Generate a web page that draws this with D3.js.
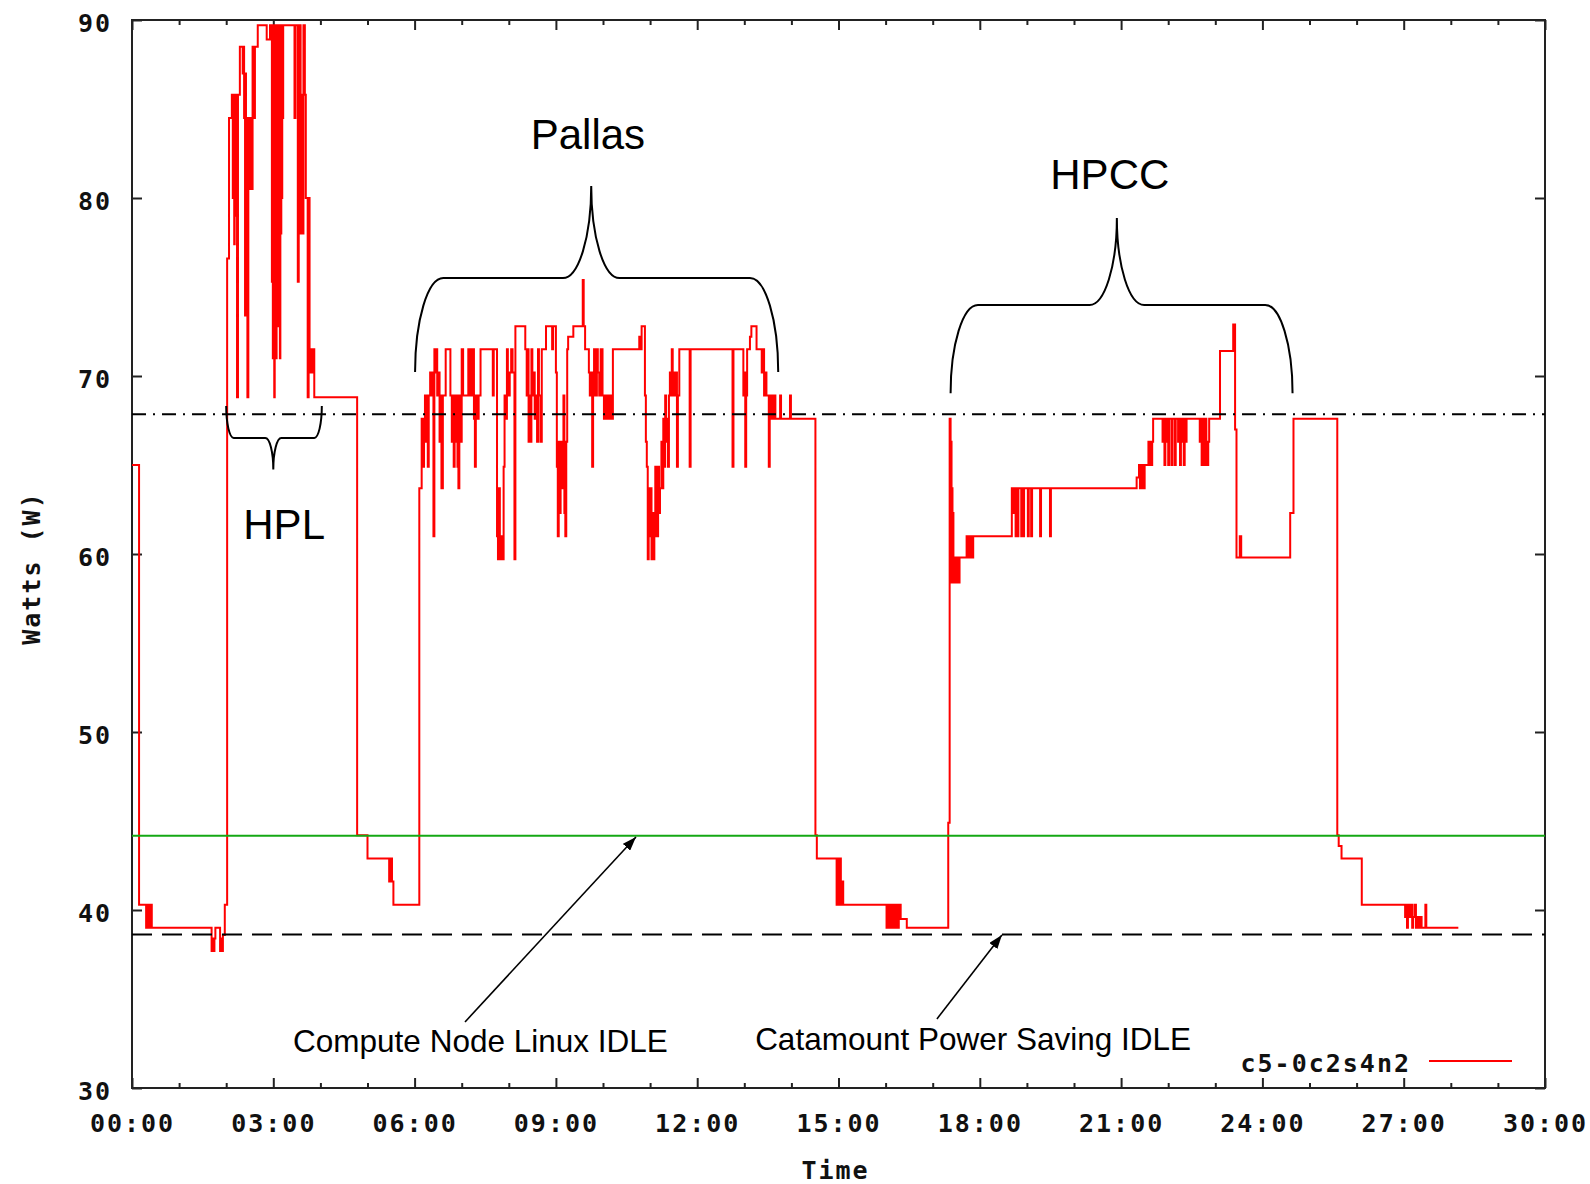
<!DOCTYPE html>
<html>
<head>
<meta charset="utf-8">
<script src="https://cdn.jsdelivr.net/npm/d3@7"></script>
<style>
  html, body { margin: 0; padding: 0; background: #ffffff; }
  svg { display: block; }
  .tick-label, .axis-title, .key-text {
    font-family: "DejaVu Sans Mono", monospace;
    font-weight: bold;
    font-size: 25px;
    letter-spacing: 2px;
    fill: #111;
  }
  .note { font-family: "Liberation Sans", Arial, sans-serif; fill: #000; }
</style>
</head>
<body>
<svg id="chart" width="1590" height="1184"></svg>
<script>
// ---- data -------------------------------------------------------------
const seriesName = "c5-0c2s4n2";

// power samples of node c5-0c2s4n2: [elapsed hours, watts], held until the next sample
const c5Samples = [
  [0.00,65.0],[0.15,40.3],[0.30,39.0],[0.32,40.3],[0.34,39.0],[0.36,40.3],[0.38,39.0],[0.40,40.3],[0.42,39.0],
  [1.69,37.7],[1.71,38.4],[1.73,37.7],[1.75,38.4],[1.77,39.0],[1.87,37.7],[1.89,38.4],[1.91,37.7],[1.93,38.6],[1.97,40.3],
  // HPL
  [2.02,76.6],[2.06,84.5],[2.12,85.8],[2.14,80.0],[2.15,85.8],[2.17,77.4],[2.18,85.8],[2.20,79.0],[2.21,85.8],[2.23,68.8],
  [2.25,85.8],[2.29,88.5],[2.35,87.0],[2.37,88.5],[2.38,84.5],[2.40,73.4],[2.41,87.0],[2.42,75.3],[2.43,84.5],[2.45,68.8],
  [2.47,84.5],[2.50,80.5],[2.52,84.5],[2.54,80.5],[2.56,88.5],[2.59,84.5],[2.61,88.5],[2.67,89.7],[2.86,88.9],[2.93,89.7],
  [2.97,75.3],[2.98,89.7],[2.99,71.0],[3.00,89.7],[3.02,68.8],[3.03,89.7],[3.04,73.4],[3.05,89.7],[3.06,71.0],[3.07,88.5],
  [3.08,75.3],[3.09,89.7],[3.10,72.8],[3.11,89.7],[3.12,77.4],[3.13,89.7],[3.14,71.0],[3.15,88.5],[3.16,78.0],[3.17,89.7],
  [3.18,80.0],[3.19,89.7],[3.20,84.5],[3.21,89.7],[3.45,84.5],[3.47,89.7],[3.52,75.3],[3.54,89.7],[3.58,78.0],[3.60,85.8],
  [3.62,78.0],[3.64,89.7],[3.67,85.8],[3.69,80.0],[3.73,68.8],[3.75,80.0],[3.77,71.5],[3.79,70.2],[3.81,71.5],[3.83,70.2],
  [3.85,71.5],[3.87,68.8],
  [4.78,44.2],[5.00,42.9],[5.46,41.6],[5.47,42.9],[5.49,41.6],[5.50,42.9],[5.52,41.6],[5.55,40.3],
  // Pallas
  [6.10,63.7],[6.15,67.6],[6.18,64.9],[6.20,67.6],[6.22,68.9],[6.24,66.3],[6.26,68.9],[6.28,64.9],[6.30,68.9],[6.33,70.2],
  [6.36,68.9],[6.38,70.2],[6.40,61.0],[6.42,71.5],[6.44,70.2],[6.46,71.5],[6.48,68.9],[6.51,70.2],[6.53,66.3],[6.55,68.9],
  [6.57,63.7],[6.60,68.9],[6.66,71.5],[6.76,68.9],[6.79,66.3],[6.81,68.9],[6.83,64.9],[6.85,68.9],[6.87,66.3],[6.89,68.9],
  [6.91,64.9],[6.93,63.7],[6.95,68.9],[6.98,66.3],[7.00,71.5],[7.03,68.9],[7.14,71.5],[7.16,68.9],[7.18,71.5],[7.20,70.2],
  [7.22,68.9],[7.24,71.5],[7.26,67.6],[7.28,64.9],[7.30,68.9],[7.33,67.6],[7.36,68.9],[7.40,71.5],[7.66,68.9],[7.68,71.5],
  [7.75,61.0],[7.77,59.7],[7.79,63.7],[7.81,59.7],[7.84,61.0],[7.86,59.7],[7.89,64.9],[7.91,68.9],[7.94,67.6],[7.96,71.5],
  [7.98,68.9],[8.02,70.2],[8.05,71.5],[8.08,70.2],[8.12,59.7],[8.14,72.8],[8.35,71.5],[8.38,68.9],[8.40,71.5],[8.42,66.3],
  [8.44,68.9],[8.46,66.3],[8.48,71.5],[8.50,68.9],[8.53,70.2],[8.55,67.6],[8.57,68.9],[8.60,66.3],[8.62,71.5],[8.64,68.9],
  [8.67,66.3],[8.70,71.5],[8.79,72.8],[8.92,71.5],[8.94,72.8],[9.00,70.2],[9.02,64.9],[9.04,61.0],[9.06,66.3],[9.08,62.3],
  [9.10,64.9],[9.12,66.3],[9.14,63.7],[9.16,68.9],[9.18,62.3],[9.20,61.0],[9.22,66.3],[9.24,71.5],[9.26,72.2],[9.37,72.8],
  [9.57,75.4],[9.59,72.8],[9.62,71.5],[9.70,70.2],[9.72,68.9],[9.75,70.2],[9.77,64.9],[9.79,68.9],[9.81,71.5],[9.85,68.9],
  [9.87,71.5],[9.89,70.2],[9.92,68.9],[9.95,71.5],[9.99,68.9],[10.02,67.6],[10.04,68.9],[10.07,67.6],[10.09,68.9],[10.12,67.6],
  [10.14,68.9],[10.17,67.6],[10.21,71.5],[10.77,72.2],[10.80,71.5],[10.82,72.8],[10.89,68.9],[10.91,66.3],[10.93,64.9],[10.95,59.7],
  [10.97,63.7],[10.99,61.0],[11.01,63.7],[11.03,59.7],[11.05,62.3],[11.07,59.7],[11.09,61.0],[11.11,64.9],[11.13,62.3],[11.15,61.0],
  [11.17,64.9],[11.19,62.3],[11.21,63.7],[11.24,66.3],[11.26,63.7],[11.28,67.6],[11.30,64.9],[11.32,68.9],[11.34,66.3],[11.36,67.6],
  [11.38,64.9],[11.40,68.9],[11.42,70.2],[11.44,68.9],[11.46,71.5],[11.48,68.9],[11.50,70.2],[11.52,68.9],[11.55,70.2],[11.57,64.9],
  [11.59,68.9],[11.62,71.5],[11.84,64.9],[11.86,71.5],[12.75,64.9],[12.77,71.5],[12.98,68.9],[13.00,70.2],[13.02,64.9],[13.04,68.9],
  [13.06,71.5],[13.12,72.2],[13.15,72.8],[13.26,71.5],[13.37,70.2],[13.40,71.5],[13.42,68.9],[13.44,70.2],[13.47,68.9],[13.52,64.9],
  [13.54,68.9],[13.57,67.6],[13.59,68.9],[13.61,67.6],[13.63,68.9],[13.66,67.6],[13.76,68.9],[13.78,67.6],[13.97,68.9],[13.99,67.6],
  [14.51,44.2],[14.54,42.9],[14.96,40.3],[14.97,42.9],[14.99,40.3],[15.00,42.9],[15.02,40.3],[15.03,42.9],[15.05,40.3],[15.07,41.6],
  [15.10,40.3],[16.02,39.0],[16.04,40.3],[16.06,39.0],[16.08,40.3],[16.10,39.0],[16.12,40.3],[16.15,39.0],[16.17,40.3],[16.20,39.0],
  [16.22,40.3],[16.25,39.0],[16.28,40.3],[16.32,39.5],[16.45,39.0],
  // HPCC
  [17.33,44.9],[17.36,67.6],[17.38,58.4],[17.39,66.3],[17.40,58.4],[17.41,63.7],[17.42,58.4],[17.43,62.3],[17.44,58.4],[17.46,59.8],
  [17.47,58.4],[17.49,59.8],[17.51,58.4],[17.53,59.8],[17.55,58.4],[17.57,59.8],[17.72,61.0],[17.74,59.8],[17.76,61.0],[17.78,59.8],
  [17.80,61.0],[17.82,59.8],[17.86,61.0],[18.68,63.7],[18.70,62.3],[18.72,63.7],[18.74,62.3],[18.76,61.0],[18.78,63.7],[18.80,61.0],
  [18.82,63.7],[18.88,61.0],[18.90,63.7],[18.92,61.0],[18.94,63.7],[19.02,61.0],[19.04,63.7],[19.09,61.0],[19.11,63.7],[19.28,61.0],
  [19.30,63.7],[19.49,61.0],[19.51,63.7],[21.33,64.3],[21.38,65.0],[21.40,63.7],[21.42,65.0],[21.44,63.7],[21.46,65.0],[21.48,63.7],
  [21.50,65.0],[21.58,66.3],[21.60,65.0],[21.62,66.3],[21.64,65.0],[21.66,66.3],[21.68,67.6],[21.88,66.3],[21.90,67.6],[21.92,65.0],
  [21.94,67.6],[21.96,66.3],[21.98,67.6],[22.00,65.0],[22.02,67.6],[22.07,65.0],[22.09,67.6],[22.14,65.0],[22.16,67.6],[22.21,66.3],
  [22.23,67.6],[22.25,65.0],[22.27,67.6],[22.29,66.3],[22.31,67.6],[22.33,65.0],[22.35,67.6],[22.37,66.3],[22.39,67.6],[22.67,66.3],
  [22.69,67.6],[22.71,65.0],[22.73,67.6],[22.75,66.3],[22.77,65.0],[22.79,67.6],[22.81,66.3],[22.83,65.0],[22.85,66.3],[22.87,67.6],
  [23.10,71.4],[23.38,72.9],[23.42,67.0],[23.45,59.8],[23.52,61.0],[23.55,59.8],[24.59,62.3],[24.66,67.6],
  [25.59,44.2],[25.62,43.6],[25.68,42.9],[26.11,40.3],[27.03,39.6],[27.05,40.3],[27.07,39.0],[27.09,40.3],[27.12,39.6],[27.15,40.3],
  [27.18,39.0],[27.20,39.6],[27.23,40.3],[27.26,39.0],[27.30,39.6],[27.33,39.0],[27.36,39.6],[27.38,39.0],[27.46,40.3],[27.48,39.0],
  [28.16,39.0]
];

// idle reference levels (watts)
const benchmarkLevel = 67.85;     // dash-dot
const cnlIdleLevel = 44.17;       // Compute Node Linux idle
const catamountIdleLevel = 38.63; // Catamount power-saving idle

const xTickHours = [0, 3, 6, 9, 12, 15, 18, 21, 24, 27, 30];
const xMinorHours = d3.range(0, 31).filter(h => h % 3 !== 0);
const yTickWatts = [30, 40, 50, 60, 70, 80, 90];

const benchmarkNames = ["HPL", "Pallas", "HPCC"];
const idleNames = ["Compute Node Linux IDLE", "Catamount Power Saving IDLE"];

// ---- layout -----------------------------------------------------------
const W = 1590, H = 1184;
const plot = { left: 132, right: 1545, top: 20, bottom: 1088 };

const svg = d3.select("#chart");
const x = d3.scaleLinear().domain([0, 30]).range([plot.left, plot.right]);
const y = d3.scaleLinear().domain([30, 90]).range([plot.bottom, plot.top]);
const fmtHour = h => d3.format("02d")(h) + ":00";

svg.append("defs").append("clipPath").attr("id", "plotClip")
  .append("rect")
  .attr("x", plot.left).attr("y", plot.top)
  .attr("width", plot.right - plot.left).attr("height", plot.bottom - plot.top);

const defs = svg.select("defs");
defs.append("marker")
  .attr("id", "arrowHead")
  .attr("viewBox", "0 0 14 10")
  .attr("refX", 14).attr("refY", 5)
  .attr("markerWidth", 14).attr("markerHeight", 10)
  .attr("markerUnits", "userSpaceOnUse")
  .attr("orient", "auto")
  .append("path").attr("d", "M0,0 L14,5 L0,10 Z").attr("fill", "#000");

// ---- axes -------------------------------------------------------------
function styleAxis(g) {
  g.select(".domain").remove();
  g.selectAll(".tick line").attr("stroke", "#222").attr("stroke-width", 2);
}

// bottom: labelled majors, minors every hour
svg.append("g").attr("transform", `translate(0,${plot.bottom})`)
  .call(d3.axisBottom(x).tickValues(xTickHours).tickSize(-10).tickPadding(26).tickFormat(fmtHour))
  .call(styleAxis)
  .call(g => g.selectAll("text").attr("class", "tick-label").attr("fill", null));
svg.append("g").attr("transform", `translate(0,${plot.bottom})`)
  .call(d3.axisBottom(x).tickValues(xMinorHours).tickSize(-5).tickFormat(""))
  .call(styleAxis);
// top mirror
svg.append("g").attr("transform", `translate(0,${plot.top})`)
  .call(d3.axisTop(x).tickValues(xTickHours).tickSize(-10).tickFormat(""))
  .call(styleAxis);
svg.append("g").attr("transform", `translate(0,${plot.top})`)
  .call(d3.axisTop(x).tickValues(xMinorHours).tickSize(-5).tickFormat(""))
  .call(styleAxis);
// left labelled, right mirror
svg.append("g").attr("transform", `translate(${plot.left},0)`)
  .call(d3.axisLeft(y).tickValues(yTickWatts).tickSize(-10).tickPadding(20).tickFormat(d3.format("d")))
  .call(styleAxis)
  .call(g => g.selectAll("text").attr("class", "tick-label").attr("fill", null).attr("dy", "0.46em"));
svg.append("g").attr("transform", `translate(${plot.right},0)`)
  .call(d3.axisRight(y).tickValues(yTickWatts).tickSize(-10).tickFormat(""))
  .call(styleAxis);

// frame
svg.append("rect")
  .attr("x", plot.left).attr("y", plot.top)
  .attr("width", plot.right - plot.left).attr("height", plot.bottom - plot.top)
  .attr("fill", "none").attr("stroke", "#222").attr("stroke-width", 2);

// axis titles
svg.append("text").attr("class", "axis-title")
  .attr("transform", `translate(31,${(plot.top + plot.bottom) / 2 + 14}) rotate(-90)`)
  .attr("text-anchor", "middle").attr("dy", "0.35em")
  .text("Watts (W)");
svg.append("text").attr("class", "axis-title")
  .attr("x", (plot.left + plot.right) / 2 - 3).attr("y", 1179)
  .attr("text-anchor", "middle")
  .text("Time");

// ---- series -----------------------------------------------------------
const powerLine = d3.line()
  .x(d => x(d[0]))
  .y(d => y(d[1]))
  .curve(d3.curveStepAfter);

svg.append("path")
  .datum(c5Samples)
  .attr("clip-path", "url(#plotClip)")
  .attr("fill", "none")
  .attr("stroke", "#ff0000")
  .attr("stroke-width", 2)
  .attr("stroke-linejoin", "miter")
  .attr("d", powerLine);

// ---- reference levels -------------------------------------------------
const refs = svg.append("g").attr("clip-path", "url(#plotClip)");
refs.append("line")
  .attr("x1", plot.left).attr("x2", plot.right)
  .attr("y1", y(cnlIdleLevel)).attr("y2", y(cnlIdleLevel))
  .attr("stroke", "#14a814").attr("stroke-width", 2);
refs.append("line")
  .attr("x1", plot.left).attr("x2", plot.right)
  .attr("y1", y(benchmarkLevel)).attr("y2", y(benchmarkLevel))
  .attr("stroke", "#000").attr("stroke-width", 2)
  .attr("stroke-dasharray", "14,7,2,7");
refs.append("line")
  .attr("x1", plot.left).attr("x2", plot.right)
  .attr("y1", y(catamountIdleLevel)).attr("y2", y(catamountIdleLevel))
  .attr("stroke", "#000").attr("stroke-width", 2)
  .attr("stroke-dasharray", "20,10");

// ---- braces and benchmark names ---------------------------------------
// curly brace with ends at h0/h1 (level wEnd), a straight band at wBand and a tip at (hTip, wTip)
function bracePath(h0, h1, hTip, wEnd, wBand, wTip, rEndH, rTipH) {
  const k = 0.552;
  const x0 = x(h0), x1 = x(h1), xm = x(hTip);
  const yE = y(wEnd), yB = y(wBand), yT = y(wTip);
  const re = x(rEndH) - x(0), rt = x(rTipH) - x(0);
  return [
    `M${x0},${yE}`,
    `C${x0},${yE + k * (yB - yE)} ${x0 + re - k * re},${yB} ${x0 + re},${yB}`,
    `L${xm - rt},${yB}`,
    `C${xm - rt + k * rt},${yB} ${xm},${yT + k * (yB - yT)} ${xm},${yT}`,
    `C${xm},${yT + k * (yB - yT)} ${xm + rt - k * rt},${yB} ${xm + rt},${yB}`,
    `L${x1 - re},${yB}`,
    `C${x1 - re + k * re},${yB} ${x1},${yE + k * (yB - yE)} ${x1},${yE}`
  ].join(" ");
}

const braces = [
  { name: benchmarkNames[0], path: bracePath(2.00, 4.03, 3.00, 68.31, 66.52, 64.75, 0.16, 0.17), label: [3.23, 60.84] },
  { name: benchmarkNames[1], path: bracePath(6.01, 13.72, 9.75, 70.22, 75.50, 80.67, 0.60, 0.60), label: [9.68, 82.75] },
  { name: benchmarkNames[2], path: bracePath(17.38, 24.64, 20.91, 69.03, 73.99, 78.88, 0.58, 0.58), label: [20.76, 80.51] }
];

svg.append("g").selectAll("path").data(braces).join("path")
  .attr("d", d => d.path)
  .attr("fill", "none").attr("stroke", "#000").attr("stroke-width", 2);

svg.append("g").selectAll("text").data(braces).join("text")
  .attr("class", "note")
  .attr("x", d => x(d.label[0])).attr("y", d => y(d.label[1]))
  .attr("text-anchor", "middle")
  .attr("font-size", 42)
  .text(d => d.name);

// ---- idle annotations with arrows --------------------------------------
const idleNotes = [
  { text: idleNames[0], at: [3.42, 32.02], from: [7.07, 33.71], to: [10.70, 44.10] },
  { text: idleNames[1], at: [13.23, 32.13], from: [17.09, 33.88], to: [18.47, 38.60] }
];

svg.append("g").selectAll("line").data(idleNotes).join("line")
  .attr("x1", d => x(d.from[0])).attr("y1", d => y(d.from[1]))
  .attr("x2", d => x(d.to[0])).attr("y2", d => y(d.to[1]))
  .attr("stroke", "#000").attr("stroke-width", 1.6)
  .attr("marker-end", "url(#arrowHead)");

svg.append("g").selectAll("text").data(idleNotes).join("text")
  .attr("class", "note")
  .attr("x", d => x(d.at[0])).attr("y", d => y(d.at[1]))
  .attr("font-size", 31.5)
  .text(d => d.text);

// ---- key --------------------------------------------------------------
svg.append("text").attr("class", "key-text")
  .attr("x", 1411).attr("y", 1072)
  .attr("text-anchor", "end")
  .text(seriesName);
svg.append("line")
  .attr("x1", 1429).attr("x2", 1512).attr("y1", 1061).attr("y2", 1061)
  .attr("stroke", "#ff0000").attr("stroke-width", 2);
</script>
</body>
</html>
